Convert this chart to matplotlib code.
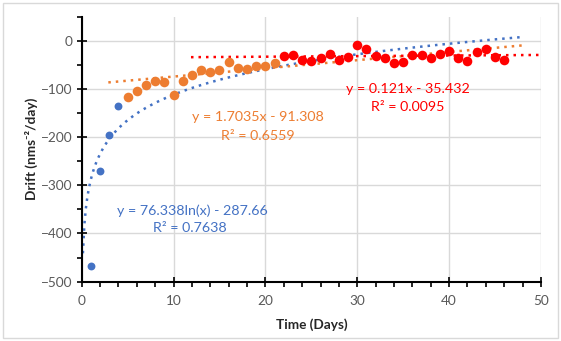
import numpy as np
import matplotlib.pyplot as plt
from matplotlib.patches import Rectangle
from matplotlib.ticker import MultipleLocator

plt.rcParams['font.family'] = ['Lato', 'DejaVu Sans']

# Drift readings per day, split into three phases
blue_days = [1, 2, 3, 4]
blue_vals = [-468, -270, -195, -136]

orange_days = [5, 6, 7, 8, 9, 10, 11, 12, 13, 14, 15, 16, 17, 18, 19, 20, 21]
orange_vals = [-116, -105, -91, -83, -86, -112, -84, -70, -61, -65, -61, -43, -56, -59, -52, -52, -47]

red_days = [22, 23, 24, 25, 26, 27, 28, 29, 30, 31, 32, 33, 34, 35,
            36, 37, 38, 39, 40, 41, 42, 43, 44, 45, 46]
red_vals = [-32, -30, -39, -42, -36, -28, -40, -33, -9, -16, -31, -36, -47, -44,
            -30, -29, -36, -28, -21, -36, -41, -24, -17, -34, -40]

# trendline coefficients (as printed on the chart)
log_a, log_b = 76.338, -287.66
or_m, or_c = 1.7035, -91.308
red_m, red_c = 0.121, -35.432

BLUE = "#4472C4"
ORANGE = "#ED7D31"
RED = "#FF0000"

fig = plt.figure(figsize=(5.61, 3.41), dpi=100)
ax = fig.add_axes([0.1456, 0.174, 0.8187, 0.777])

# trendlines
xl = np.linspace(0.134, 47.8, 300)
ax.plot(xl, log_a * np.log(xl) + log_b, ls=(0, (1, 2)), color=BLUE, lw=1.8, zorder=2)
xo = np.linspace(2.9, 47.9, 2)
ax.plot(xo, or_m * xo + or_c, ls=(0, (1, 2)), color=ORANGE, lw=1.8, zorder=2)
xr = np.linspace(11.9, 50, 2)
ax.plot(xr, red_m * xr + red_c, ls=(0, (1, 2)), color=RED, lw=1.8, zorder=2)

# data points
ax.scatter(blue_days, blue_vals, s=32, color=BLUE, zorder=3, linewidths=0)
ax.scatter(orange_days, orange_vals, s=48, color=ORANGE, zorder=3, linewidths=0)
ax.scatter(red_days, red_vals, s=48, color=RED, zorder=3, linewidths=0)

# equation labels
fs = 10.3
ax.text(12.1, -352, "y = 76.338ln(x) - 287.66", color=BLUE, fontsize=fs, va="center", ha="center")
ax.text(11.8, -388, "R² = 0.7638", color=BLUE, fontsize=fs, va="center", ha="center")
ax.text(19.2, -159, "y = 1.7035x - 91.308", color=ORANGE, fontsize=fs, va="center", ha="center")
ax.text(19.2, -197, "R² = 0.6559", color=ORANGE, fontsize=fs, va="center", ha="center")
ax.text(35.5, -100, "y = 0.121x - 35.432", color=RED, fontsize=fs, va="center", ha="center")
ax.text(35.5, -138, "R² = 0.0095", color=RED, fontsize=fs, va="center", ha="center")

ax.set_xlim(0, 50)
ax.set_ylim(-500, 50)
ax.set_xticks(range(0, 51, 10))
ax.set_yticks(range(-500, 1, 100))
ax.xaxis.set_minor_locator(MultipleLocator(2))
ax.yaxis.set_minor_locator(MultipleLocator(50))
ax.tick_params(which="major", direction="inout", length=7, width=1.2, labelsize=9.8,
               labelcolor="#595959")
ax.tick_params(axis="x", which="major", pad=6)
ax.tick_params(axis="y", which="major", pad=3)
ax.tick_params(which="minor", direction="out", length=3.5, width=1.2)

ax.grid(which="major", color="#D9D9D9", lw=1)
ax.set_axisbelow(True)
for s in ["top", "right"]:
    ax.spines[s].set_visible(False)
for s in ["left", "bottom"]:
    ax.spines[s].set_linewidth(1.5)

ax.set_xlabel("Time (Days)", fontsize=9.8, fontweight="bold", color="#262626", labelpad=8)
ax.set_ylabel("Drift (nms⁻²/day)", fontsize=9.8, fontweight="bold", color="#262626", labelpad=2)

# chart area border
fig.patches.append(Rectangle((0.006, 0.01), 0.988, 0.98, transform=fig.transFigure,
                             fill=False, edgecolor="#D9D9D9", lw=1))

fig.savefig("out.png", dpi=100)
